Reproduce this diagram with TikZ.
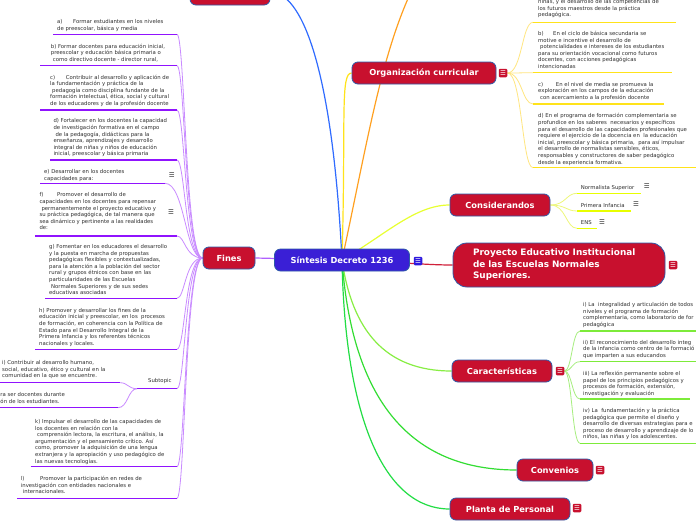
\documentclass[tikz,border=0pt]{standalone}
\usepackage{fontspec}
\setmainfont{DejaVu Sans}
\usetikzlibrary{backgrounds}
\definecolor{nred}{HTML}{C8102E}
\definecolor{nborder}{HTML}{2E5AA8}
\definecolor{cblue}{HTML}{3A1FD6}
\definecolor{txt}{HTML}{2E2E2E}
\definecolor{purpU}{HTML}{9013FE}
\definecolor{purpC}{HTML}{C98BFF}
\definecolor{yelU}{HTML}{FFE31A}
\definecolor{yelC}{HTML}{FFE680}
\definecolor{limeU}{HTML}{E8FF00}
\definecolor{limeC}{HTML}{EEF77A}
\definecolor{grnU}{HTML}{7DEB3A}
\definecolor{grnC}{HTML}{A6EE7E}
\definecolor{brBlue}{HTML}{2F6BFF}
\definecolor{brOrange}{HTML}{FFA020}
\definecolor{brYel}{HTML}{FFE31A}
\definecolor{brLime}{HTML}{E8FF30}
\definecolor{brRed}{HTML}{D0203A}
\definecolor{brGrn1}{HTML}{88EE44}
\definecolor{brGrn2}{HTML}{33DD33}
\definecolor{brGrn3}{HTML}{22DD44}
\definecolor{brPurp}{HTML}{B060FF}
\newcommand\tabl[2]{\makebox[#1][l]{#2}}
\tikzset{
 mainnode/.style={draw=nborder, line width=0.8pt, fill=nred, rounded corners=6pt, text=white,
   font=\fontsize{8.3}{11}\selectfont\bfseries, inner sep=0pt, minimum height=22pt},
 leaf/.style={text=txt, font=\fontsize{5.35}{6.6}\selectfont, align=left, inner sep=0pt, anchor=north west},
 iconbox/.style={fill=nred, rounded corners=1.2pt, minimum size=8.5pt, inner sep=0pt, text=white,
   font=\fontsize{6.5}{6.5}\selectfont},
 menu/.style={text=txt, font=\fontsize{6.5}{6.5}\selectfont, inner sep=0pt},
 ul/.style={line width=1.4pt},
 br/.style={line width=1.2pt},
 sub/.style={line width=0.8pt}
}
\begin{document}
\begin{tikzpicture}[x=1pt,y=-1pt]
\useasboundingbox (0,0) rectangle (696,520);

% ---------- main nodes ----------
\node[mainnode, minimum width=80pt, minimum height=26pt] (top) at (230,-8) {};
\node[mainnode, fill=cblue, minimum width=135pt] (center) at (342,260) {Síntesis Decreto 1236};
\node[iconbox, fill=cblue!80!blue] (centerIcon) at (418,261) {☰};
\node[mainnode, minimum width=144pt] (org) at (424,73) {Organización curricular};
\node[iconbox] (orgIcon) at (503,73) {☰};
\node[mainnode, minimum width=100pt] (cons) at (500,205) {Considerandos};
\node[mainnode, rounded corners=14pt, minimum height=44pt, inner xsep=20pt, text width=172pt, align=left,
      font=\fontsize{8.9}{11.5}\selectfont\bfseries] (proy) at (559,265)
  {Proyecto Educativo Institucional\\de las Escuelas Normales\\Superiores.};
\node[iconbox] (proyIcon) at (673,265) {☰};
\node[mainnode, minimum width=100pt] (car) at (502,371) {Características};
\node[iconbox] (carIcon) at (560,371) {☰};
\node[mainnode, minimum width=76pt] (conv) at (555,470) {Convenios};
\node[iconbox] (convIcon) at (600,470) {☰};
\node[mainnode, minimum width=120pt] (plan) at (510,509) {Planta de Personal};
\node[iconbox] (planIcon) at (577,508) {☰};
\node[mainnode, minimum width=52pt] (fines) at (229,258) {Fines};
\coordinate (orangeEnd) at (428,-40);

% ---------- Fines children ----------
\node[leaf] (fa) at (57,19.3) {\tabl{16pt}{a)}Formar estudiantes en los niveles\\de preescolar, básica y media};
\coordinate (faS) at (53,34.3); \coordinate (faE) at (177,34.3);
\node[leaf] (fb) at (50.7,43.7) {b) Formar docentes para educación inicial,\\preescolar y educación básica primaria o\\\hspace*{2pt}como directivo docente - director rural,};
\coordinate (fbS) at (40,65.7); \coordinate (fbE) at (177,65.7);
\node[leaf] (fc) at (50,74.7) {\tabl{15.7pt}{c)}Contribuir al desarrollo y aplicación de\\la fundamentación y práctica de la\\\hspace*{2pt}pedagogía como disciplina fundante de la\\formación intelectual, ética, social y cultural\\de los educadores y de la profesión docente};
\coordinate (fcS) at (40,110); \coordinate (fcE) at (177,110);
\node[leaf] (fd) at (53.3,118.7) {d) Fortalecer en los docentes la capacidad\\de investigación formativa en el campo\\\hspace*{2pt}de la pedagogía, didácticas para la\\enseñanza, aprendizajes y desarrollo\\integral de niñas y niños de educación\\inicial, preescolar y básica primaria};
\coordinate (fdS) at (50,160); \coordinate (fdE) at (177,160);
\node[leaf] (fe) at (44,169.3) {e) Desarrollar en los docentes\\capacidades para:};
\node[menu] (feM) at (171.7,175) {☰};
\coordinate (feS) at (40,183.3); \coordinate (feE) at (165,183.3);
\node[leaf] (ff) at (39.3,192.7) {\tabl{17.7pt}{f)}Promover el desarrollo de\\capacidades en los docentes para repensar\\\hspace*{2pt}permanentemente el proyecto educativo y\\su práctica pedagógica, de tal manera que\\sea dinámico y pertinente a las realidades\\de:};
\node[menu] (ffM) at (171,212) {☰};
\coordinate (ffS) at (35,236); \coordinate (ffE) at (177,236);
\node[leaf] (fg) at (49,244.3) {g) Fomentar en los educadores el desarrollo\\y la puesta en marcha de propuestas\\pedagógicas flexibles y contextualizadas,\\para la atención a la población del sector\\rural y grupos étnicos con base en las\\particularidades de las Escuelas\\\hspace*{2pt}Normales Superiores y de sus sedes\\educativas asociadas};
\coordinate (fgS) at (45,298.3); \coordinate (fgE) at (177,298.3);
\node[leaf] (fh) at (39,308) {h) Promover y desarrollar los fines de la\\educación inicial y preescolar, en los\ \ procesos\\de formación, en coherencia con la Política de\\Estado para el Desarrollo Integral de la\\Primera Infancia y los referentes técnicos\\nacionales y locales.};
\coordinate (fhS) at (35,349.3); \coordinate (fhE) at (177,349.3);
\node[leaf] (subT) at (148,378.3) {Subtopic};
\coordinate (subS) at (137,388.7); \coordinate (subE) at (177,388.7);
\node[leaf] (fi) at (2,360.3) {i) Contribuir al desarrollo humano,\\social, educativo, ético y cultural en la\\comunidad en la que se encuentre.};
\coordinate (fiS) at (0,382.7); \coordinate (fiE) at (120,382.7);
\node[leaf] (fj) at (0.3,392.7) {ra ser docentes durante\\ón de los estudiantes.};
\coordinate (fjS) at (0,407.7); \coordinate (fjE) at (118,407.7);
\node[leaf] (fk) at (35,419.3) {k) Impulsar el desarrollo de las capacidades de\\los docentes en relación con la\\\hspace*{2pt}comprensión lectora, la escritura, el análisis, la\\argumentación y el pensamiento crítico. Así\\como, promover la adquisición de una lengua\\extranjera y la apropiación y uso pedagógico de\\las nuevas tecnologías.};
\coordinate (fkS) at (30.7,466.7); \coordinate (fkE) at (177,466.7);
\node[leaf] (fl) at (20.7,476) {\tabl{19.3pt}{l)}Promover la participación en redes de\\investigación con entidades nacionales e\\\hspace*{2pt}internacionales.};
\coordinate (flS) at (17.3,498.3); \coordinate (flE) at (177,498.3);

% ---------- Organizacion children ----------
\node[leaf] (o0) at (538,-0.6) {niñas, y el desarrollo de las competencias de\\los futuros maestros desde la práctica\\pedagógica.};
\coordinate (o0S) at (533,22.3); \coordinate (o0E) at (676,22.3);
\node[leaf] (ob) at (538,31) {\tabl{15pt}{b)}En el ciclo de básica secundaria se\\motive e incentive el desarrollo de\\\hspace*{2pt}potencialidades e intereses de los estudiantes\\para su orientación vocacional como futuros\\docentes, con acciones pedagógicas\\intencionadas};
\coordinate (obS) at (533,72.7); \coordinate (obE) at (672,72.7);
\node[leaf] (oc) at (538,82) {\tabl{17.7pt}{c)}En el nivel de media se promueva la\\exploración en los campos de la educación\\\hspace*{2pt}con acercamiento a la profesión docente};
\coordinate (ocS) at (533,104); \coordinate (ocE) at (664,104);
\node[leaf] (od) at (538,113.5) {d) En el programa de formación complementaria se\\profundice en los saberes\ \ necesarios y específicos\\para el desarrollo de las capacidades profesionales que\\requiere el ejercicio de la docencia en\ \ la educación\\inicial, preescolar y básica primaria,\ \ para así impulsar\\el desarrollo de normalistas sensibles, éticos,\\responsables y constructores de saber pedagógico\\desde la experiencia formativa.};
\coordinate (odS) at (533,167.7); \coordinate (odE) at (698,167.7);

% ---------- Considerandos children ----------
\node[leaf, anchor=base west] (cn1) at (580.7,189) {Normalista Superior};
\node[menu] (cn1M) at (646.7,186) {☰};
\coordinate (cn1S) at (577,193.3); \coordinate (cn1E) at (640.7,193.3);
\node[leaf, anchor=base west] (cn2) at (580.7,207) {Primera Infancia};
\node[menu] (cn2M) at (636,204.5) {☰};
\coordinate (cn2S) at (577,211); \coordinate (cn2E) at (630.7,211);
\node[leaf, anchor=base west] (cn3) at (580.7,224.5) {ENS};
\node[menu] (cn3M) at (602,222) {☰};
\coordinate (cn3S) at (577,228.3); \coordinate (cn3E) at (596.7,228.3);

% ---------- Caracteristicas children ----------
\node[leaf] (k1) at (583,302) {i) La\ \ integralidad y articulación de todos\\niveles y el programa de formación\\complementaria, como laboratorio de for\\pedagógica};
\coordinate (k1S) at (580,331); \coordinate (k1E) at (698,331);
\node[leaf] (k2) at (583,340) {ii) El reconocimiento del desarrollo integ\\de la infancia como centro de la formació\\que imparten a sus educandos};
\coordinate (k2S) at (580,361.7); \coordinate (k2E) at (698,361.7);
\node[leaf] (k3) at (583,371.3) {iii) La reflexión permanente sobre el\\papel de los principios pedagógicos y\\procesos de formación, extensión,\\investigación y evaluación};
\coordinate (k3S) at (580,399); \coordinate (k3E) at (690,399);
\node[leaf] (k4) at (583,408) {iv) La\ \ fundamentación y la práctica\\pedagógica que permite el diseño y\\desarrollo de diversas estrategias para e\\proceso de desarrollo y aprendizaje de lo\\niños, las niñas y los adolescentes.};
\coordinate (k4S) at (580,443.3); \coordinate (k4E) at (698,443.3);

% ---------- connectors ----------
\begin{pgfonlayer}{background}
\fill[white] (-2,-2) rectangle (698,522);
% center branches
\draw[br, brBlue] (center.center) .. controls (332,60) and (300,-8) .. (top.east);
\draw[br, brOrange] (center.center) .. controls (372,120) and (385,30) .. (orangeEnd);
\draw[br, brYel] (center.center) .. controls (346,120) and (340,73) .. (org.west);
\draw[br, brLime] (center.center) .. controls (385,235) and (415,205) .. (cons.west);
\draw[br, brRed] (center.center) .. controls (400,262) and (425,265) .. (proy.west);
\draw[br, brGrn1] (center.center) .. controls (352,330) and (385,371) .. (car.west);
\draw[br, brGrn2] (center.center) .. controls (352,400) and (410,470) .. (conv.west);
\draw[br, brGrn3] (center.center) .. controls (345,420) and (385,509) .. (plan.west);
\draw[br, brPurp] (center.center) -- (fines.east);
% Fines children
\foreach \n in {fa,fb,fc,fd,fe,ff,fg,fh,sub,fk,fl}{
  \draw[sub, purpC] (fines.west) .. controls (185,258) and (185,0|-\n E) .. (\n E);
}
\foreach \n in {fa,fb,fc,fd,fe,ff,fg,fh,sub,fi,fj,fk,fl}{
  \draw[ul, purpU] (\n S) -- (\n E);
}
\draw[sub, purpC] (subS) .. controls (128,388.7) and (128,382.7) .. (fiE);
\draw[sub, purpC] (subS) .. controls (128,388.7) and (128,407.7) .. (fjE);
% Organizacion children
\foreach \n in {o0,ob,oc,od}{
  \draw[sub, yelC] (orgIcon.east) .. controls (522,73) and (522,0|-\n S) .. (\n S);
  \draw[ul, yelU] (\n S) -- (\n E);
}
% Considerandos children
\foreach \n in {cn1,cn2,cn3}{
  \draw[sub, limeC] (cons.east) .. controls (566,205) and (566,0|-\n S) .. (\n S);
  \draw[ul, limeU] (\n S) -- (\n E);
}
% Caracteristicas children
\foreach \n in {k1,k2,k3,k4}{
  \draw[sub, grnC] (carIcon.east) .. controls (572,371) and (572,0|-\n S) .. (\n S);
  \draw[ul, grnU] (\n S) -- (\n E);
}
\end{pgfonlayer}
\end{tikzpicture}
\end{document}
